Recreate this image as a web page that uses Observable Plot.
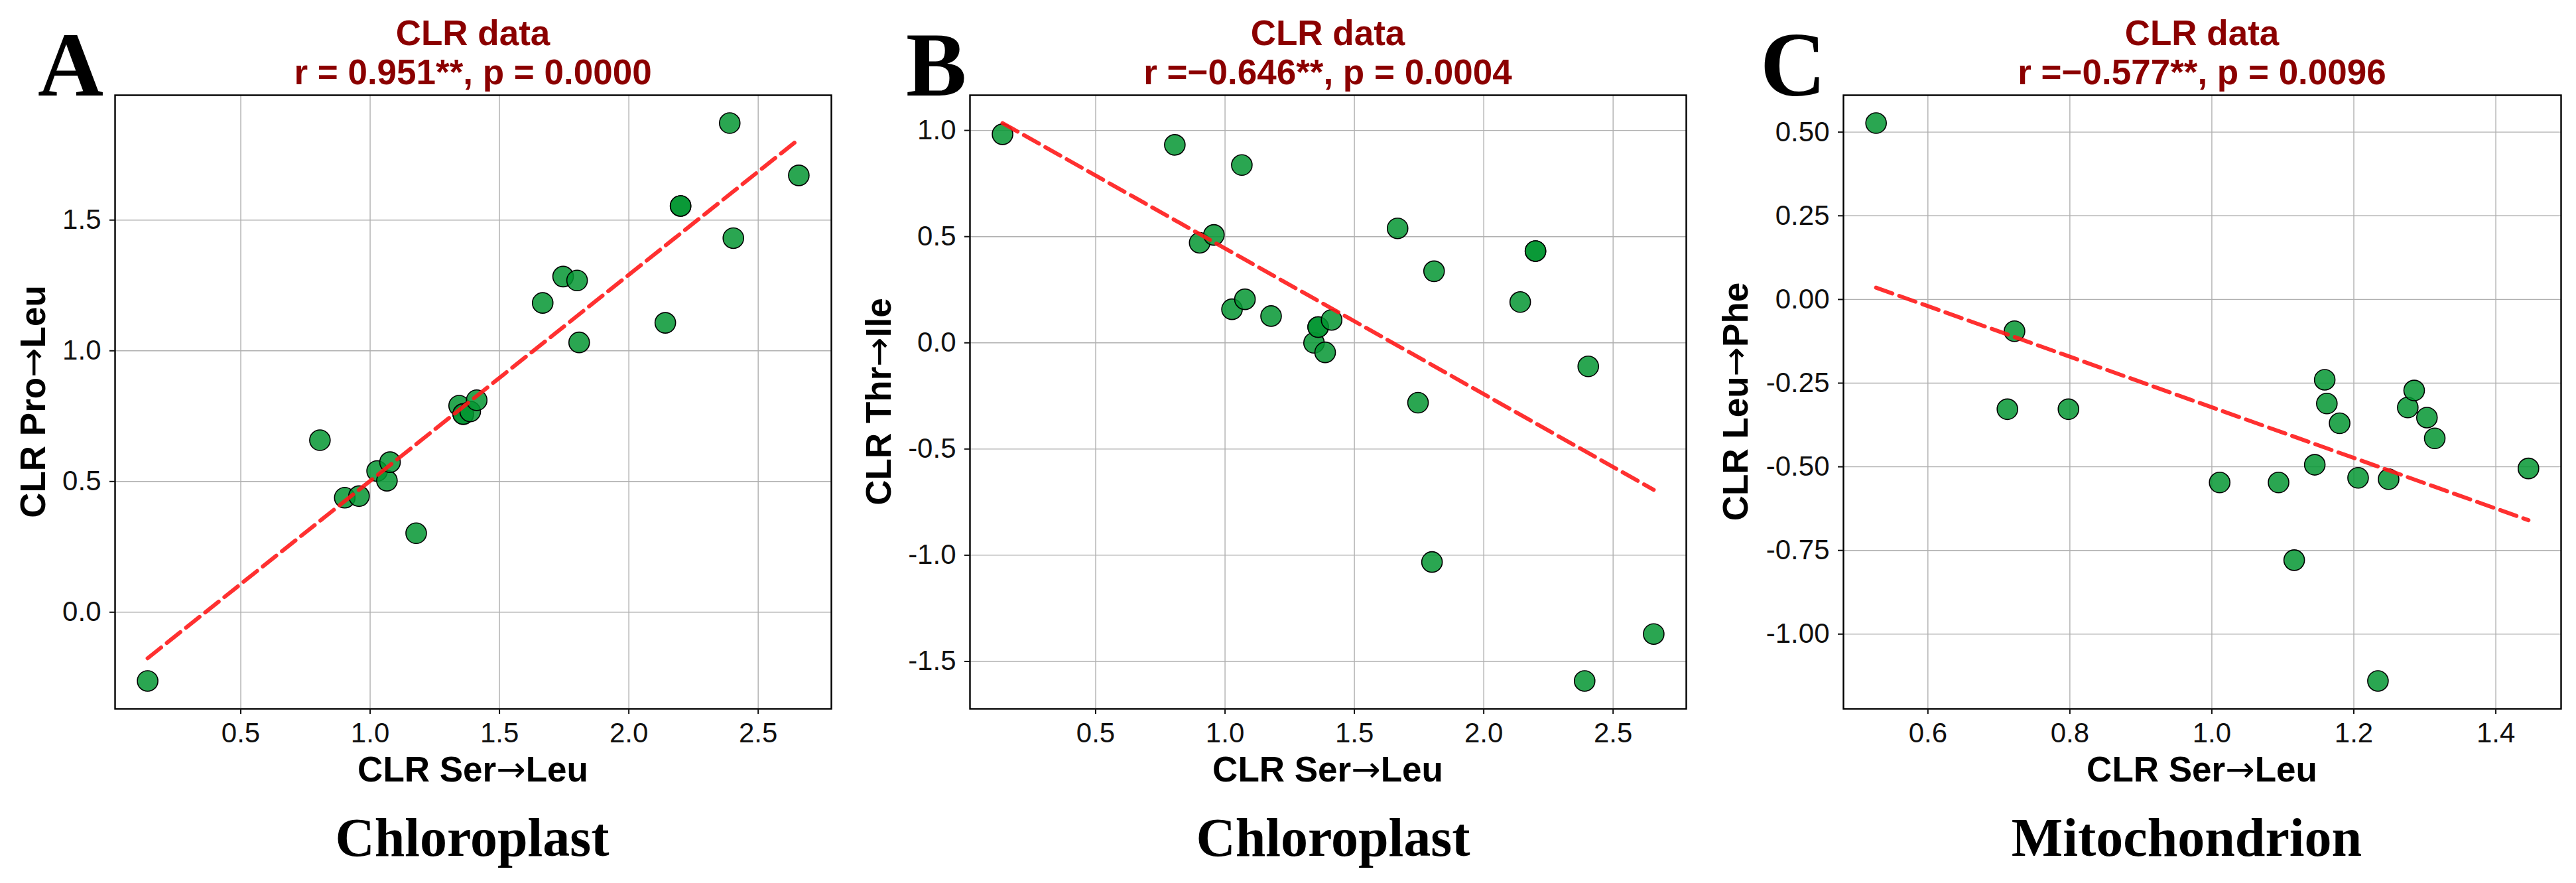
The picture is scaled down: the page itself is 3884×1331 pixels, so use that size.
<!DOCTYPE html>
<html>
<head>
<meta charset="utf-8">
<script src="https://cdn.jsdelivr.net/npm/d3@7"></script>
<script src="https://cdn.jsdelivr.net/npm/@observablehq/plot@0.6"></script>
<style>
  body { margin: 0; background: #fff; }
  #fig { position: relative; width: 3884px; height: 1331px; overflow: hidden; background: #fff; }
  #fig > svg { position: absolute; top: 0; }
</style>
</head>
<body>
<div id="fig"></div>
<script>
// Chloroplast: CLR Ser->Leu shared by panels A and B
const serLeuCp = [0.140, 0.806, 0.902, 0.957, 1.027, 1.065, 1.077, 1.178, 1.344, 1.360, 1.360, 1.387, 1.412, 1.667, 1.746, 1.800, 1.808, 2.141, 2.200, 2.200, 2.390, 2.404, 2.657];
const proLeu = [-0.263, 0.658, 0.438, 0.444, 0.540, 0.503, 0.574, 0.302, 0.790, 0.758, 0.758, 0.768, 0.811, 1.183, 1.284, 1.269, 1.032, 1.107, 1.554, 1.554, 1.871, 1.431, 1.671];
const thrIle = [0.982, 0.932, 0.471, 0.508, 0.158, 0.837, 0.205, 0.126, 0.000, 0.074, 0.074, -0.045, 0.108, 0.539, -0.282, -1.032, 0.337, 0.192, 0.432, 0.432, -1.592, -0.111, -1.371];

// Mitochondrion (panel C)
const serLeuMt = [0.527, 0.722, 0.712, 0.798, 1.011, 1.094, 1.116, 1.145, 1.159, 1.162, 1.180, 1.206, 1.234, 1.249, 1.276, 1.285, 1.303, 1.314, 1.446];
const leuPhe = [0.527, -0.095, -0.328, -0.328, -0.547, -0.547, -0.779, -0.494, -0.240, -0.311, -0.370, -0.533, -1.140, -0.537, -0.323, -0.272, -0.353, -0.415, -0.505];

// ticks
const ticksCpX = [0.5, 1.0, 1.5, 2.0, 2.5];
const ticksAY = [0.0, 0.5, 1.0, 1.5];
const ticksBY = [-1.5, -1.0, -0.5, 0.0, 0.5, 1.0];
const ticksMtX = [0.6, 0.8, 1.0, 1.2, 1.4];
const ticksCY = [-1.0, -0.75, -0.5, -0.25, 0.0, 0.25, 0.5];

const letters = ["A", "B", "C"];
const titles = ["r = 0.951**, p = 0.0000", "r =\u22120.646**, p = 0.0004", "r =\u22120.577**, p = 0.0096"];
// axis labels as [before arrow, after arrow]
const yLabels = [["CLR Pro", "Leu"], ["CLR Thr", "Ile"], ["CLR Leu", "Phe"]];
const xLabel = ["CLR Ser", "Leu"];
const organelles = ["Chloroplast", "Chloroplast", "Mitochondrion"];

const fig = document.getElementById("fig");

// least squares line, only used so the y limits also hold the fitted line (as matplotlib does)
function fitLine(xs, ys) {
  const mx = d3.mean(xs), my = d3.mean(ys);
  const b = d3.sum(xs, (x, i) => (x - mx) * (ys[i] - my)) / d3.sum(xs, x => (x - mx) ** 2);
  return x => my + b * (x - mx);
}
function padded(vals) {
  const [lo, hi] = d3.extent(vals);
  const m = (hi - lo) * 0.05;
  return [lo - m, hi + m];
}

function panel(xs, ys, xTicks, yTicks, xFmt, yFmt, geo) {
  const data = xs.map((x, i) => ({x, y: ys[i]}));
  const f = fitLine(xs, ys);
  const [x0, x1] = d3.extent(xs);
  const chart = Plot.plot({
    width: geo.width,
    height: 1331,
    marginTop: 143,
    marginBottom: 263,
    marginLeft: geo.left,
    marginRight: geo.right,
    style: {fontFamily: "'Liberation Sans', Arial, sans-serif", fontSize: "42px", color: "#111", background: "transparent"},
    x: {domain: padded(xs)},
    y: {domain: padded([...ys, f(x0), f(x1)])},
    marks: [
      Plot.gridX(xTicks, {stroke: "#b0b0b0", strokeOpacity: 1, strokeWidth: 1.4}),
      Plot.gridY(yTicks, {stroke: "#b0b0b0", strokeOpacity: 1, strokeWidth: 1.4}),
      Plot.dot(data, {x: "x", y: "y", r: 15.5, fill: "rgb(5,150,50)", fillOpacity: 0.85, stroke: "black", strokeWidth: 1.6}),
      Plot.linearRegressionY(data, {x: "x", y: "y", ci: 0, stroke: "#ff1a1a", strokeOpacity: 0.9, strokeWidth: 6, strokeDasharray: "26,11"}),
      Plot.frame({stroke: "black", strokeWidth: 2.4}),
      Plot.axisX({ticks: xTicks, tickFormat: xFmt, tickSize: 8, tickPadding: 13, strokeWidth: 2, label: null}),
      Plot.axisY({ticks: yTicks, tickFormat: yFmt, tickSize: 8, tickPadding: 13, strokeWidth: 2, label: null})
    ]
  });
  chart.style.left = geo.x + "px";
  fig.append(chart);
}

const f1 = d => d.toFixed(1);
const f2 = d => d.toFixed(2);

panel(serLeuCp, proLeu, ticksCpX, ticksAY, f1, f1, {x: 0, width: 1300, left: 173, right: 47});
panel(serLeuCp, thrIle, ticksCpX, ticksBY, f1, f1, {x: 1300, width: 1300, left: 162, right: 58});
panel(serLeuMt, leuPhe, ticksMtX, ticksCY, f1, f2, {x: 2600, width: 1284, left: 179, right: 23});

// annotation layer: panel letters, titles, axis labels, organelle names
const frameCenters = [713, 2002, 3320];
const letterX = [57, 1366, 2654];
const yLabelX = [68, 1343, 2635];
const bottomX = [712, 2010, 3297];

const svg = d3.create("svg")
  .attr("width", 3884).attr("height", 1331)
  .style("position", "absolute").style("left", "0px").style("top", "0px");

const sans = "'Liberation Sans', Arial, sans-serif";
const serif = "'Liberation Serif', 'Times New Roman', serif";

function arrowLabel(sel, parts) {
  sel.append("tspan").text(parts[0]);
  sel.append("tspan").attr("font-family", "'DejaVu Sans', sans-serif").attr("font-weight", "normal").text("\u2192");
  sel.append("tspan").text(parts[1]);
}

for (let i = 0; i < 3; i++) {
  svg.append("text").attr("x", letterX[i]).attr("y", 144)
    .attr("font-family", serif).attr("font-weight", "bold").attr("font-size", 137)
    .text(letters[i]);
  svg.append("text").attr("x", frameCenters[i]).attr("y", 68).attr("text-anchor", "middle")
    .attr("font-family", sans).attr("font-weight", "bold").attr("font-size", 53).attr("fill", "#8b0000")
    .text("CLR data");
  svg.append("text").attr("x", frameCenters[i]).attr("y", 127).attr("text-anchor", "middle")
    .attr("font-family", sans).attr("font-weight", "bold").attr("font-size", 53).attr("fill", "#8b0000")
    .text(titles[i]);
  svg.append("text").attr("x", frameCenters[i]).attr("y", 1178).attr("text-anchor", "middle")
    .attr("font-family", sans).attr("font-weight", "bold").attr("font-size", 53)
    .call(arrowLabel, xLabel);
  svg.append("text").attr("transform", `translate(${yLabelX[i]},605.5) rotate(-90)`).attr("text-anchor", "middle")
    .attr("font-family", sans).attr("font-weight", "bold").attr("font-size", 53)
    .call(arrowLabel, yLabels[i]);
  svg.append("text").attr("x", bottomX[i]).attr("y", 1290).attr("text-anchor", "middle")
    .attr("font-family", serif).attr("font-weight", "bold").attr("font-size", 82)
    .text(organelles[i]);
}
fig.append(svg.node());
</script>
</body>
</html>
